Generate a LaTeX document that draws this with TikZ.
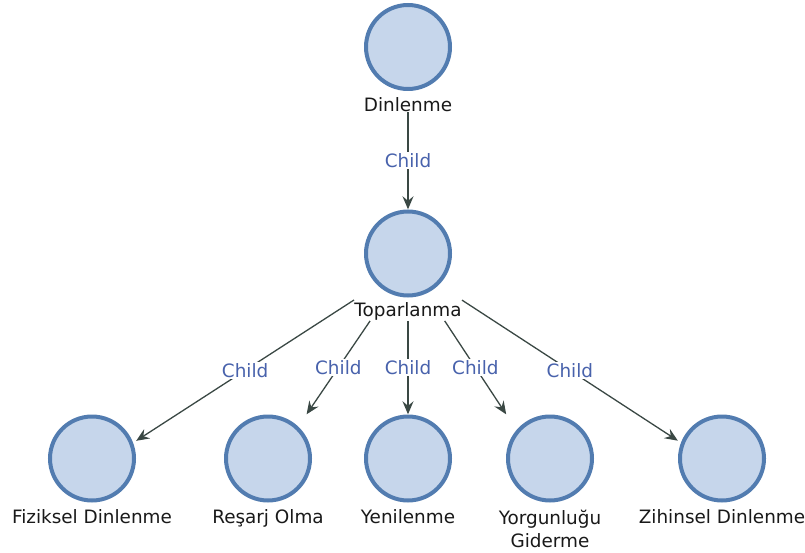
\documentclass[tikz,border=0pt]{standalone}
\usepackage{fontspec}
\setmainfont{DejaVu Sans}
\usetikzlibrary{fit,arrows.meta}
\definecolor{nodefill}{RGB}{198,214,235}
\definecolor{nodeline}{RGB}{82,124,176}
\definecolor{edgeline}{RGB}{58,72,68}
\definecolor{childtxt}{RGB}{72,98,172}
\definecolor{labeltxt}{RGB}{25,25,25}
\tikzset{
  bubble/.style={circle, draw=nodeline, fill=nodefill, line width=4pt, minimum size=84pt, inner sep=0pt},
  caption/.style={anchor=north, inner sep=0pt, align=center, text=labeltxt, font=\fontsize{18.4}{23}\selectfont},
  group/.style={rectangle, inner sep=0pt, draw=none},
  link/.style={draw=edgeline, line width=1.3pt, -{Stealth[length=13pt,width=11pt,inset=4.5pt]}},
  childlbl/.style={fill=white, inner sep=1.5pt, text=childtxt, font=\fontsize{18.4}{23}\selectfont}
}
\begin{document}
\begin{tikzpicture}[x=1pt,y=-1pt]
\useasboundingbox (0,0) rectangle (805,553);
% circles
\node[bubble] (c1) at (408,47) {};
\node[bubble] (c2) at (408,253.5) {};
\node[bubble] (c3) at (92,458.5) {};
\node[bubble] (c4) at (268,458.5) {};
\node[bubble] (c5) at (408,458.5) {};
\node[bubble] (c6) at (550,458.5) {};
\node[bubble] (c7) at (722,458.5) {};
% captions
\node[caption] (t1) at ([yshift=-6pt]c1.south) {Dinlenme};
\node[caption] (t2) at ([yshift=-5pt]c2.south) {Toparlanma};
\node[caption] (t3) at ([yshift=-7pt]c3.south) {Fiziksel Dinlenme};
\node[caption] (t4) at ([yshift=-7pt]c4.south) {Reşarj Olma};
\node[caption] (t5) at ([yshift=-7pt]c5.south) {Yenilenme};
\node[caption] (t6) at ([yshift=-7pt]c6.south) {Yorgunluğu\\Giderme};
\node[caption] (t7) at ([yshift=-7pt]c7.south) {Zihinsel Dinlenme};
% graph nodes: circle plus caption (leaves keep the circle's width)
\node[group, fit=(c1)(t1.south)] (n1) {};
\node[group, fit=(c2)(t2)] (n2) {};
\node[group, fit=(c3)(t3.south)] (n3) {};
\node[group, fit=(c4)(t4.south)] (n4) {};
\node[group, fit=(c5)(t5.south)] (n5) {};
\node[group, fit=(c6)(t6.south)] (n6) {};
\node[group, fit=(c7)(t7.south)] (n7) {};
% edges
\draw[link] (n1) -- node[childlbl] {Child} (n2);
\draw[link] (n2) -- node[childlbl] {Child} (n3);
\draw[link] (n2) -- node[childlbl] {Child} (n4);
\draw[link] (n2) -- node[childlbl] {Child} (n5);
\draw[link] (n2) -- node[childlbl] {Child} (n6);
\draw[link] (n2) -- node[childlbl] {Child} (n7);
\end{tikzpicture}
\end{document}
